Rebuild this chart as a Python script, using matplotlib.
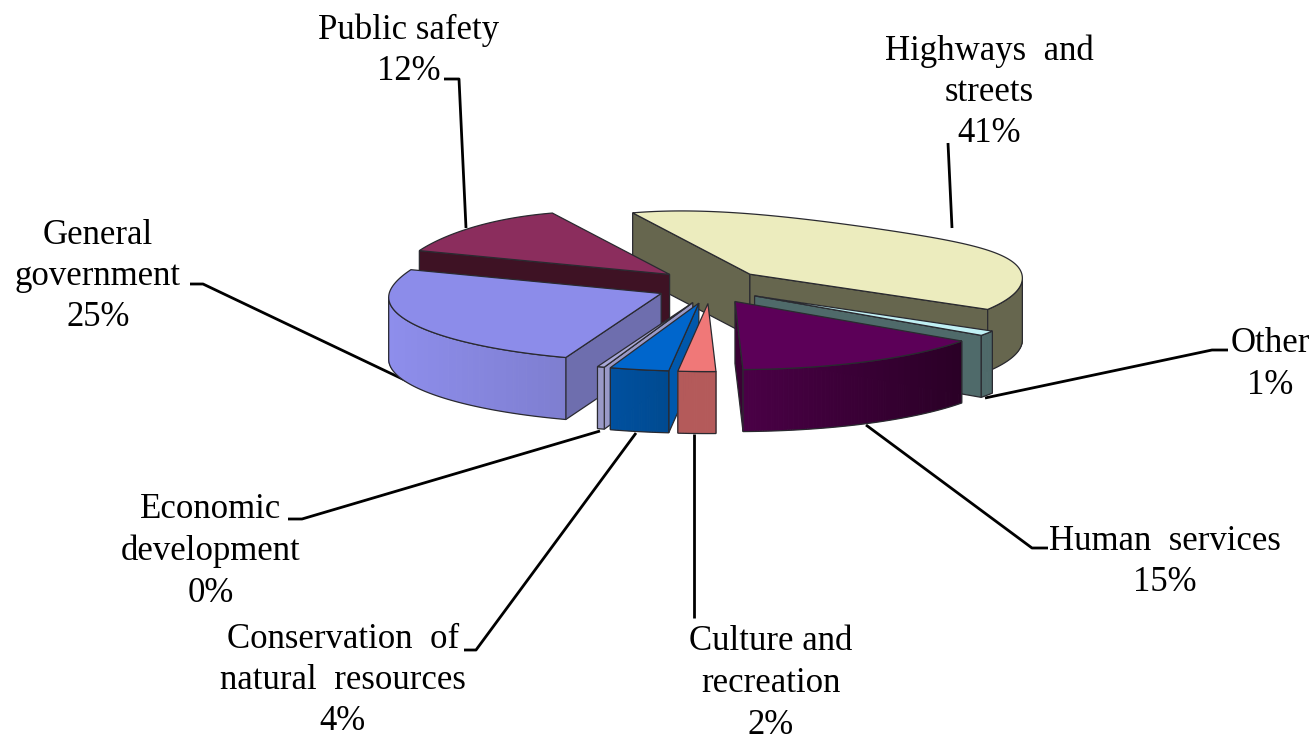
import numpy as np
import matplotlib
matplotlib.use("Agg")
import matplotlib.pyplot as plt
from matplotlib.patches import Polygon

categories = ["Highways and streets", "Other", "Human services", "Culture and recreation",
              "Conservation of natural resources", "Economic development",
              "General government", "Public safety"]
values = [41.4, 1.2, 14.4, 2.1, 3.3, 0.4, 25.2, 11.9]
percent_labels = ["41%", "1%", "15%", "2%", "4%", "0%", "25%", "12%"]
label_lines = [["Highways  and", "streets"], ["Other"], ["Human  services"],
               ["Culture and", "recreation"], ["Conservation  of", "natural  resources"],
               ["Economic", "development"], ["General", "government"], ["Public safety"]]
label_pos = [(989, 51), (1270, 344), (1165, 541), (771, 642), (343, 639), (211, 510), (98, 235), (409, 30)]
leaders = [[(948, 143), (952, 228)],
           [(1228, 350), (1212, 350), (985, 398)],
           [(1048, 548), (1032, 548), (866, 425)],
           [(694, 618), (694, 434)],
           [(464, 650), (476, 650), (636, 433)],
           [(288, 519), (302, 519), (600, 431)],
           [(190, 284), (203, 284), (413, 384)],
           [(444, 79), (459, 79), (466, 228)]]
top_colors = ["#ECECBE", "#C0F0F4", "#5C0058", "#F07878", "#0066CC", "#A8A8D8", "#8C8CEA", "#8B2D5D"]
outer_left = ["#66664E", "#4F6A6A", "#4A0046", "#B45A5A", "#00509F", "#9A9AC8", "#8E8EEC", "#3E1224"]
outer_right = ["#66664E", "#4F6A6A", "#2A0026", "#B45A5A", "#004A90", "#9A9AC8", "#7E7ED0", "#3E1224"]
cut_colors = ["#66664E", "#4F6A6A", "#3A0034", "#B45A5A", "#0058AC", "#9A9AC8", "#6E6EAE", "#3E1224"]

START = -27.0
CX, CY = 710, 286
EX, EY = 54, 17.5
RX, RY = 272, 64
K = 0.06
SKEW = 20
DEPTH = 62
EDGE = "#2a2a30"


def arc_points(apex, a0, a1):
    th = np.radians(np.linspace(a0, a1, max(int(abs(a1 - a0) * 2), 2)))
    X, Y = np.sin(th), np.cos(th)
    s = 1 / (1 + K * Y)
    skew = SKEW * X * np.clip(Y, 0, None) ** 2
    return np.column_stack([apex[0] + RX * X * s, apex[1] - RY * Y * s + skew])


def mix(c0, c1, t):
    a, b = np.array(matplotlib.colors.to_rgb(c0)), np.array(matplotlib.colors.to_rgb(c1))
    return a + (b - a) * t


fig = plt.figure(figsize=(13.16, 7.39), dpi=100)
ax = fig.add_axes([0, 0, 1, 1])
ax.set_xlim(0, 1316)
ax.set_ylim(739, 0)
ax.axis("off")

for line in leaders:
    xs, ys = zip(*line)
    ax.plot(xs, ys, color="black", lw=2.0, zorder=1, solid_capstyle="butt")

angles = START + np.concatenate([[0], np.cumsum(values)]) * 360 / np.sum(values)
slices = []
for i in range(len(values)):
    a0, a1 = angles[i], angles[i + 1]
    mid = np.radians((a0 + a1) / 2)
    apex = (CX + EX * np.sin(mid), CY - EY * np.cos(mid))
    slices.append((i, a0, a1, apex))

order = [0, 7, 1, 6, 2, 5, 4, 3]
z = 2
for i in order:
    _, a0, a1, apex = slices[i]
    arc = arc_points(apex, a0, a1)
    # cut faces, visible where the clockwise outline runs leftward on screen
    for A, B in ((np.array(apex), arc[0]), (arc[-1], np.array(apex))):
        if B[0] < A[0]:
            quad = [A, B, B + [0, DEPTH], A + [0, DEPTH]]
            ax.add_patch(Polygon(quad, closed=True, fc=cut_colors[i], ec=EDGE, lw=0.9, zorder=z))
            z += 1
    # outer wall, shaded facet by facet
    idx = [j for j in range(len(arc) - 1) if arc[j + 1][0] < arc[j][0]]
    if idx:
        xmin, xmax = arc[idx[-1] + 1][0], arc[idx[0]][0]
        for j in idx:
            t = 1 - ((arc[j][0] + arc[j + 1][0]) / 2 - xmin) / max(xmax - xmin, 1)
            col = mix(outer_right[i], outer_left[i], t)
            quad = [arc[j], arc[j + 1], arc[j + 1] + [0, DEPTH - 0.5], arc[j] + [0, DEPTH - 0.5]]
            ax.add_patch(Polygon(quad, closed=True, fc=col, ec=col, lw=0.8, zorder=z))
        z += 1
        run = arc[idx[0]:idx[-1] + 2]
        out = np.vstack([run, (run + [0, DEPTH])[::-1]])
        ax.add_patch(Polygon(out, closed=True, fill=False, ec=EDGE, lw=0.9, zorder=z))
        z += 1
    top = np.vstack([[apex], arc])
    ax.add_patch(Polygon(top, closed=True, fc=top_colors[i], ec=EDGE, lw=0.9, zorder=z))
    z += 1

font = dict(family="Liberation Serif", fontsize=25.0, color="black", ha="center", va="center", zorder=100)
LINE = 41.5
for lines, pct, (x, y) in zip(label_lines, percent_labels, label_pos):
    for n, text in enumerate(list(lines) + [pct]):
        ax.text(x, y + n * LINE, text, **font)

fig.savefig("out.png", dpi=100)
